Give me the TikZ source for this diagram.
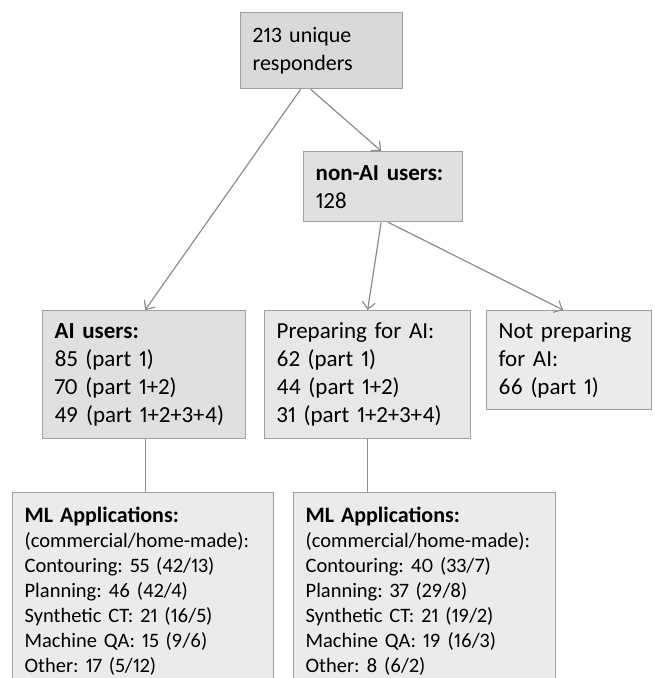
\documentclass[tikz,border=0pt]{standalone}
\usepackage{fontspec}
\setmainfont{Carlito}[Numbers=Proportional]
\usetikzlibrary{arrows.meta}
\frenchspacing

\definecolor{edgegray}{HTML}{8C8C8C}
\definecolor{framegray}{HTML}{A0A0A0}
\definecolor{fillA}{HTML}{D9D9D9}
\definecolor{fillB}{HTML}{E0E0E0}
\definecolor{fillC}{HTML}{E7E7E7}
\definecolor{fillD}{HTML}{EBEBEB}

\tikzset{
    box/.style={draw=framegray, line width=1.3pt, anchor=north west,
        inner xsep=12pt, align=left,
        font=\fontsize{23}{28}\selectfont},
    mlbox/.style={box, inner ysep=14pt,
        font=\fontsize{20.5}{25}\selectfont},
    link/.style={draw=edgegray, line width=1.2pt},
    arr/.style={link, -{Straight Barb[length=7pt,width=13pt]}}
}

\begin{document}
\begin{tikzpicture}[x=1pt,y=-1pt]
    \useasboundingbox (0,0) rectangle (655,678);

    % top level
    \node[box, fill=fillA, minimum width=162pt, minimum height=76pt,
        text width=138pt, font=\fontsize{22}{28}\selectfont]
        (total) at (240,12) {213 unique\\responders};
    \node[box, fill=fillB, minimum width=159pt, minimum height=70pt,
        text width=135pt]
        (nonai) at (303,151) {\textbf{non-AI users:}\\128};

    % middle row
    \node[box, fill=fillB, minimum width=203pt, minimum height=128pt,
        text width=179pt]
        (aiusers) at (42,310)
        {\textbf{AI users:}\\85 (part 1)\\70 (part 1+2)\\49 (part 1+2+3+4)};
    \node[box, fill=fillC, minimum width=206pt, minimum height=128pt,
        text width=182pt]
        (prep) at (264,310)
        {Preparing for AI:\\62 (part 1)\\44 (part 1+2)\\31 (part 1+2+3+4)};
    \node[box, fill=fillD, minimum width=165pt, minimum height=99pt,
        text width=141pt]
        (noprep) at (486,310)
        {Not preparing\\for AI:\\66 (part 1)};

    % bottom row
    \node[mlbox, fill=fillD, minimum width=261pt, text width=237pt]
        (mlai) at (12,492)
        {{\fontsize{22}{27}\selectfont\textbf{ML Applications:}}\\
        (commercial/home-made):\\Contouring: 55 (42/13)\\
        Planning: 46 (42/4)\\Synthetic CT: 21 (16/5)\\
        Machine QA: 15 (9/6)\\Other: 17 (5/12)};
    \node[mlbox, fill=fillD, minimum width=262pt, text width=238pt]
        (mlprep) at (293,492)
        {{\fontsize{22}{27}\selectfont\textbf{ML Applications:}}\\
        (commercial/home-made):\\Contouring: 40 (33/7)\\
        Planning: 37 (29/8)\\Synthetic CT: 21 (19/2)\\
        Machine QA: 19 (16/3)\\Other: 8 (6/2)};

    % connectors
    \draw[arr] ([xshift=-21pt]total.south) -- ([xshift=1pt]aiusers.north);
    \draw[arr] ([xshift=-11pt]total.south) -- ([xshift=-2pt]nonai.north);
    \draw[arr] ([xshift=-2pt]nonai.south) -- (prep.north);
    \draw[arr] ([xshift=5pt]nonai.south) -- ([xshift=-6pt]noprep.north);
    \draw[link] ([xshift=1pt]aiusers.south) -- ([xshift=1pt]aiusers.south |- mlai.north);
    \draw[link] (prep.south) -- (prep.south |- mlprep.north);
\end{tikzpicture}
\end{document}
